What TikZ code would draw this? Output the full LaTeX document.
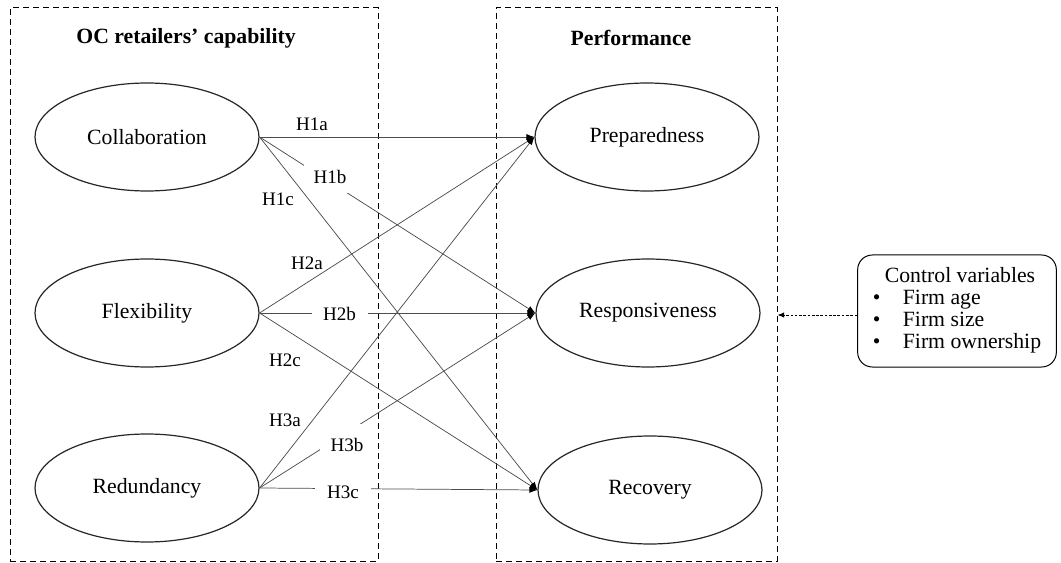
\documentclass[tikz,border=0pt]{standalone}
\usepackage{fontspec}
\setmainfont{Liberation Serif}
\usetikzlibrary{arrows.meta,shapes.geometric}

\begin{document}
\begin{tikzpicture}[x=0.75pt,y=-0.75pt,
  construct/.style={ellipse,draw=black!85,line width=0.9pt,minimum width=168pt,
    minimum height=81pt,inner sep=0pt,font=\fontsize{16.3}{19}\selectfont},
  groupbox/.style={draw,line width=0.75pt,dash pattern=on 4.5pt off 3pt,inner sep=0pt},
  grouptitle/.style={font=\fontsize{16.3}{19}\selectfont\bfseries},
  link/.style={draw=black!70,line width=0.55pt,-{Latex[length=6pt,width=4.5pt,black]}},
  hyp/.style={font=\fontsize{14.3}{16}\selectfont,inner sep=0pt},
  gap/.style={fill=white},
  ctrlbox/.style={draw,line width=0.75pt,rounded corners=11pt,minimum width=149pt,
    minimum height=84pt,inner sep=0pt,font=\fontsize{16.3}{16.5}\selectfont},
  ctrlarrow/.style={draw,line width=0.5pt,dash pattern=on 2pt off 1.2pt,
    -{Latex[length=5pt,width=4pt]}}
]
\useasboundingbox (0,0) rectangle (1061,563);

% group frames
\node[groupbox,minimum width=276pt,minimum height=414.75pt] (capbox) at (194,284.5) {};
\node[groupbox,minimum width=210.75pt,minimum height=414.75pt] (perfbox) at (636.5,284.5) {};
\node[grouptitle] (captitle) at (186,38) {OC retailers’ capability};
\node[grouptitle] (perftitle) at (631,38) {Performance};

% constructs
\node[construct] (col)  at (147,137) {Collaboration};
\node[construct] (flex) at (147,313) {Flexibility};
\node[construct] (red)  at (147,488) {Redundancy};
\node[construct] (prep) at (647,137) {Preparedness};
\node[construct] (resp) at (648,313) {Responsiveness};
\node[construct] (rec)  at (650,490) {Recovery};

% hypothesised paths
\draw[link] (col.east)  -- (prep.west);
\draw[link] (col.east)  -- (resp.west);
\draw[link] (col.east)  -- (rec.west);
\draw[link] (flex.east) -- (prep.west);
\draw[link] (flex.east) -- (resp.west);
\draw[link] (flex.east) -- (rec.west);
\draw[link] (red.east)  -- (prep.west);
\draw[link] (red.east)  -- (resp.west);
\draw[link] (red.east)  -- (rec.west);

% path labels
\node[hyp] (h1a) at (312,124) {H1a};
\node[hyp,gap,minimum width=39pt,minimum height=24pt] (h1b) at (330,177) {H1b};
\node[hyp] (h1c) at (278,199) {H1c};
\node[hyp] (h2a) at (307,263) {H2a};
\node[hyp,gap,minimum width=42pt,minimum height=15pt] (h2b) at (339.5,314) {H2b};
\node[hyp] (h2c) at (285,360) {H2c};
\node[hyp] (h3a) at (285,420) {H3a};
\node[hyp,gap,minimum width=40.5pt,minimum height=31.5pt] (h3b) at (347,445) {H3b};
\node[hyp,gap,minimum width=42pt,minimum height=15pt] (h3c) at (343,492) {H3c};

% control variables
\node[ctrlbox] (ctl) at (957,311) {%
  \renewcommand{\arraystretch}{1}%
  \begin{tabular}{@{}p{22.5pt}@{}l@{}}
    \multicolumn{2}{@{\hspace{9pt}}l@{}}{Control variables}\\
    \textbullet & Firm age\\
    \textbullet & Firm size\\
    \textbullet & Firm ownership
  \end{tabular}};
\coordinate (ctlout) at ([yshift=-3pt]ctl.west);
\draw[ctrlarrow] (ctlout) -- (ctlout -| perfbox.east);
\end{tikzpicture}
\end{document}
